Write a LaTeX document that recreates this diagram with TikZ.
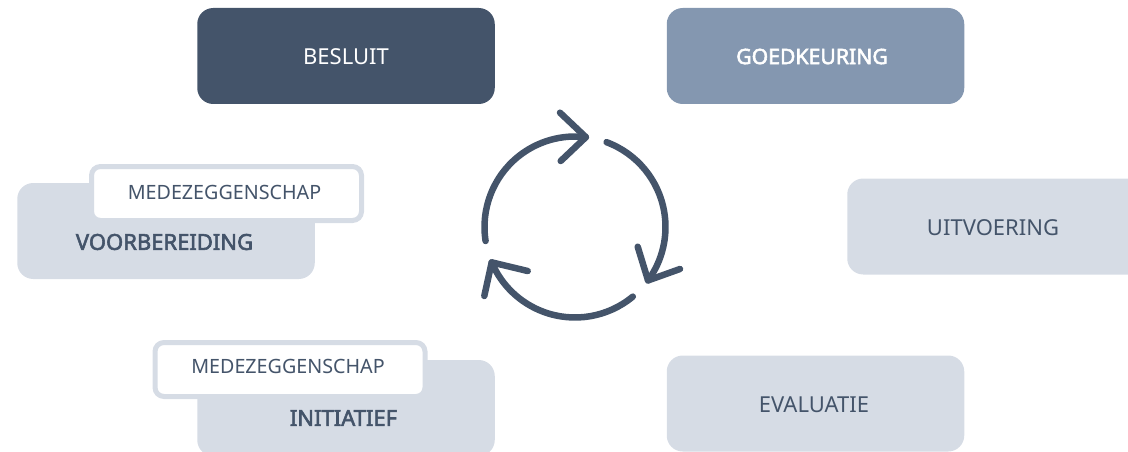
\documentclass[tikz,border=0pt]{standalone}
\usepackage{fontspec}
\setmainfont{Noto Sans}
\newfontfamily\fakebold[FakeBold=2.6]{Noto Sans}
\definecolor{darkslate}{HTML}{44546A}
\definecolor{midslate}{HTML}{8497B0}
\definecolor{paleslate}{HTML}{D6DCE5}
\tikzset{
  panel/.style={rectangle,rounded corners=16pt,minimum width=297.5pt,minimum height=96pt,inner sep=0pt,outer sep=0pt,fill=paleslate},
  tagbox/.style={rectangle,rounded corners=9pt,minimum width=270pt,minimum height=54pt,inner sep=0pt,fill=white,draw=paleslate,line width=5pt},
  txt/.style={text=darkslate,font=\fontsize{22}{26}\selectfont,inner sep=0pt},
  tagtxt/.style={text=darkslate,font=\fontsize{19.7}{24}\selectfont,inner sep=0pt},
  boldtxt/.style={text=darkslate,font=\fakebold\fontsize{22}{26}\selectfont,inner sep=0pt},
  cycleline/.style={draw=darkslate,line width=6.5pt,line cap=round,line join=round}
}
\begin{document}
\begin{tikzpicture}[x=1pt,y=1pt]
\useasboundingbox (0,0) rectangle (1128,-452);
\clip (0,0) rectangle (1128,-452);
% top row
\node[panel,fill=darkslate] (besluit) at (346,-56) {};
\node[txt,text=white] (besluitT) at (346,-56.5) {BESLUIT};
\node[panel,fill=midslate] (goed) at (815.5,-56) {};
\node[boldtxt,text=white,font=\fakebold\fontsize{21.2}{26}\selectfont] (goedT) at (812,-56.5) {GOEDKEURING};
% right
\node[panel] (uit) at (996,-226.5) {};
\node[txt] (uitT) at (993,-228) {UITVOERING};
% left
\node[panel] (voor) at (166,-231) {};
\node[boldtxt] (voorT) at (164.5,-242) {VOORBEREIDING};
\node[tagbox] (tag1) at (226.5,-193.5) {};
\node[tagtxt] (tag1T) at (224.5,-192) {MEDEZEGGENSCHAP};
% bottom
\node[panel] (init) at (346,-408) {};
\node[boldtxt] (initT) at (343.5,-418) {INITIATIEF};
\node[tagbox] (tag2) at (290,-369.5) {};
\node[tagtxt] (tag2T) at (288,-366) {MEDEZEGGENSCHAP};
\node[panel] (eval) at (815.5,-403.5) {};
\node[txt] (evalT) at (814,-405) {EVALUATIE};
% cycle
\coordinate (c) at (575,-227);
\coordinate (s1) at ([shift={(188.9:90.5pt)}]c);
\coordinate (s2) at ([shift={(69.6:90.5pt)}]c);
\coordinate (s3) at ([shift={(-50.3:90.5pt)}]c);
\draw[cycleline] (s1) arc[start angle=188.9,end angle=83.1,radius=90.5pt] coordinate (t1);
\draw[cycleline] (s2) arc[start angle=69.6,end angle=-36.2,radius=90.5pt] coordinate (t2);
\draw[cycleline] (s3) arc[start angle=-50.3,end angle=-157,radius=90.5pt] coordinate (t3);
\coordinate (h1a) at (560,-112.7);
\coordinate (h1b) at (560.7,-161);
\coordinate (h2a) at (637.7,-246.7);
\coordinate (h2b) at (680,-269);
\coordinate (h3a) at (527.7,-271);
\coordinate (h3b) at (484.3,-296);
\draw[cycleline] (h1a) -- (t1) -- (h1b);
\draw[cycleline] (h2a) -- (t2) -- (h2b);
\draw[cycleline] (h3a) -- (t3) -- (h3b);
\end{tikzpicture}
\end{document}
